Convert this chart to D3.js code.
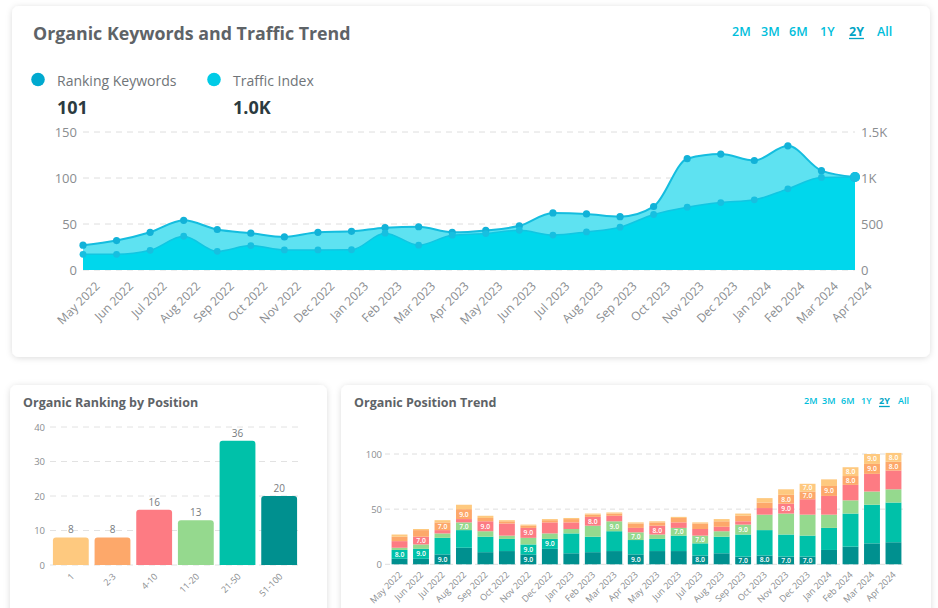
<!DOCTYPE html>
<html>
<head>
<meta charset="utf-8">
<script src="https://cdn.jsdelivr.net/npm/d3@7"></script>
<style>
  body { margin: 0; background: #fff; }
  svg text { font-family: "Open Sans", sans-serif; }
</style>
</head>
<body>
<svg id="chart" width="938" height="608"></svg>
<script>
// ---- data ----
var months = ["May 2022", "Jun 2022", "Jul 2022", "Aug 2022", "Sep 2022", "Oct 2022",
              "Nov 2022", "Dec 2022", "Jan 2023", "Feb 2023", "Mar 2023", "Apr 2023",
              "May 2023", "Jun 2023", "Jul 2023", "Aug 2023", "Sep 2023", "Oct 2023",
              "Nov 2023", "Dec 2023", "Jan 2024", "Feb 2024", "Mar 2024", "Apr 2024"];
var rankingKeywords = [27, 32, 41, 54, 44, 40, 36, 41, 42, 46, 47, 41,
                       43, 48, 62, 61, 58, 69, 121, 126, 119, 135, 108, 101];
var trafficIndex = [170, 170, 214, 367, 203, 265, 218, 218, 220, 400, 270, 378,
                    396, 432, 380, 414, 465, 603, 683, 733, 763, 882, 1006, 1010];
var leftTicks = [0, 50, 100, 150];
var rightTicks = [0, 500, 1000, 1500];

var positionGroups = ["1", "2-3", "4-10", "11-20", "21-50", "51-100"];
var positionCounts = [8, 8, 16, 13, 36, 20];
var positionColors = ["#fec97f", "#fda86a", "#fd7b83", "#95d98e", "#00c1a9", "#00908f"];
var positionTicks = [0, 10, 20, 30, 40];

// monthly counts per position group
var pos1 = [2, 1, 2, 4, 2, 1, 1, 1, 1, 1, 1, 1, 1, 1, 1, 2, 2, 4, 5, 7, 6, 8, 9, 8];
var pos2to3 = [4, 6, 7, 9, 3, 2, 2, 2, 3, 2, 2, 4, 3, 4, 5, 5, 5, 5, 8, 7, 9, 8, 9, 8];
var pos4to10 = [6, 7, 3, 3, 9, 11, 9, 10, 6, 8, 5, 4, 8, 5, 6, 4, 3, 6, 9, 14, 17, 14, 16, 17];
var pos11to20 = [2, 4, 4, 7, 5, 3, 6, 5, 4, 10, 9, 7, 4, 7, 7, 5, 9, 14, 19, 19, 12, 12, 12, 12];
var pos21to50 = [8, 9, 15, 16, 14, 11, 9, 9, 18, 14, 18, 13, 11, 14, 11, 15, 20, 23, 20, 19, 20, 30, 35, 36];
var pos51to100 = [5, 5, 9, 15, 11, 12, 9, 14, 10, 11, 12, 9, 12, 12, 8, 10, 7, 8, 7, 7, 13, 16, 19, 20];
var trendTicks = [0, 50, 100];

var rangeButtons = ["2M", "3M", "6M", "1Y", "2Y", "All"];
var activeRange = "2Y";

// ---- setup ----
var svg = d3.select("#chart");
var defs = svg.append("defs");
var shadow = defs.append("filter").attr("id", "shadow")
    .attr("x", "-5%").attr("y", "-10%").attr("width", "110%").attr("height", "125%");
shadow.append("feDropShadow").attr("dx", 0).attr("dy", 1).attr("stdDeviation", 3)
    .attr("flood-color", "#000").attr("flood-opacity", 0.14);

function card(x, y, w, h) {
    svg.append("rect").attr("x", x).attr("y", y).attr("width", w).attr("height", h)
        .attr("rx", 7).attr("fill", "#fff").attr("filter", "url(#shadow)");
}
card(12, 6, 918, 351);
card(10, 385, 317, 240);
card(341, 385, 590, 240);

function title(x, y, text, size) {
    svg.append("text").attr("x", x).attr("y", y).text(text)
        .attr("font-size", size).attr("font-weight", 700).attr("fill", "#5e6367");
}

function ranges(xs, y, size) {
    rangeButtons.forEach(function(r, i) {
        var t = svg.append("text").attr("x", xs[i]).attr("y", y).text(r)
            .attr("font-size", size).attr("font-weight", r === activeRange ? 700 : 600)
            .attr("fill", r === activeRange ? "#00a4c4" : "#00bedb");
        if (r === activeRange) {
            var w = t.node().getComputedTextLength();
            svg.append("line").attr("x1", xs[i]).attr("x2", xs[i] + w)
                .attr("y1", y + 2.5).attr("y2", y + 2.5)
                .attr("stroke", "#00a4c4").attr("stroke-width", 1.3);
        }
    });
}

function styleAxis(g, size) {
    g.select(".domain").remove();
    g.selectAll("text").attr("font-size", size).attr("fill", "#8a8d90");
}

// rounded-top bar
function barPath(x, y, w, h, r) {
    r = Math.min(r, h, w / 2);
    return "M" + x + "," + (y + h) + "V" + (y + r) +
        "Q" + x + "," + y + " " + (x + r) + "," + y +
        "H" + (x + w - r) + "Q" + (x + w) + "," + y + " " + (x + w) + "," + (y + r) +
        "V" + (y + h) + "Z";
}

// ================= top chart =================
title(33, 40, "Organic Keywords and Traffic Trend", 17.8);
ranges([732, 761, 789, 820, 849, 877], 36, 12.5);

// legend
var legend = [
    { name: "Ranking Keywords", value: "101", color: "#00a9cf", x: 38 },
    { name: "Traffic Index", value: "1.0K", color: "#00cbe6", x: 214 }
];
legend.forEach(function(l) {
    svg.append("circle").attr("cx", l.x).attr("cy", 79.5).attr("r", 6.8).attr("fill", l.color);
    svg.append("text").attr("x", l.x + 19).attr("y", 86).text(l.name)
        .attr("font-size", 14).attr("fill", "#6f7478");
    svg.append("text").attr("x", l.x + 19).attr("y", 113.5).text(l.value)
        .attr("font-size", 18).attr("font-weight", 700).attr("fill", "#2b3a40");
});

var plotL = 83, plotR = 855, plotT = 132, plotB = 270;
var x = d3.scalePoint().domain(months).range([plotL, plotR]);
var yL = d3.scaleLinear().domain([0, 150]).range([plotB, plotT]);
var yR = d3.scaleLinear().domain([0, 1500]).range([plotB, plotT]);

svg.append("g").selectAll("line").data(leftTicks).enter().append("line")
    .attr("x1", plotL).attr("x2", plotR)
    .attr("y1", function(d) { return yL(d); }).attr("y2", function(d) { return yL(d); })
    .attr("stroke", "#dedede").attr("stroke-dasharray", "6 5");

var gl = svg.append("g").attr("transform", "translate(" + plotL + ",0)")
    .call(d3.axisLeft(yL).tickValues(leftTicks).tickSize(0).tickPadding(6));
styleAxis(gl, 13);

var gr = svg.append("g").attr("transform", "translate(" + plotR + ",0)")
    .call(d3.axisRight(yR).tickValues(rightTicks).tickSize(0).tickPadding(6)
        .tickFormat(function(d) { return d >= 1000 ? (d / 1000) + "K" : d; }));
styleAxis(gr, 13);

var upperArea = d3.area()
    .x(function(d, i) { return x(months[i]); })
    .y0(plotB).y1(function(d) { return yL(d); })
    .curve(d3.curveMonotoneX);
var lowerArea = d3.area()
    .x(function(d, i) { return x(months[i]); })
    .y0(plotB).y1(function(d) { return yR(d); })
    .curve(d3.curveMonotoneX);

svg.append("path").datum(rankingKeywords).attr("d", upperArea).attr("fill", "#5ee2f1");
svg.append("path").datum(rankingKeywords).attr("d", upperArea.lineY1())
    .attr("fill", "none").attr("stroke", "#14bddf").attr("stroke-width", 2);
svg.append("path").datum(trafficIndex).attr("d", lowerArea).attr("fill", "#00d7ec");
svg.append("path").datum(trafficIndex).attr("d", lowerArea.lineY1())
    .attr("fill", "none").attr("stroke", "#10c6e2").attr("stroke-width", 1.5);

svg.append("g").selectAll("circle").data(rankingKeywords).enter().append("circle")
    .attr("cx", function(d, i) { return x(months[i]); })
    .attr("cy", function(d) { return yL(d); })
    .attr("r", function(d, i) { return i === months.length - 1 ? 5 : 3.6; })
    .attr("fill", "#12b2d8");
svg.append("g").selectAll("circle").data(trafficIndex).enter().append("circle")
    .attr("cx", function(d, i) { return x(months[i]); })
    .attr("cy", function(d) { return yR(d); })
    .attr("r", function(d, i) { return i === months.length - 1 ? 5 : 3.4; })
    .attr("fill", "#17bfe0");

var gx = svg.append("g").attr("transform", "translate(0," + plotB + ")")
    .call(d3.axisBottom(x).tickSize(0));
styleAxis(gx, 12);
gx.selectAll("text").attr("x", 0).attr("y", 0).attr("dy", 0)
    .attr("text-anchor", "end").attr("transform", "translate(17,17) rotate(-45)");

// ================= organic ranking by position =================
title(23, 407, "Organic Ranking by Position", 12.5);

var xb = d3.scaleBand().domain(positionGroups).range([50, 300]).paddingInner(0.14).paddingOuter(0.07);
var yb = d3.scaleLinear().domain([0, 40]).range([565, 427]);

svg.append("g").selectAll("line").data(positionTicks).enter().append("line")
    .attr("x1", 50).attr("x2", 300)
    .attr("y1", function(d) { return yb(d); }).attr("y2", function(d) { return yb(d); })
    .attr("stroke", "#e2e2e2").attr("stroke-dasharray", "6 5");

var gbl = svg.append("g").attr("transform", "translate(50,0)")
    .call(d3.axisLeft(yb).tickValues(positionTicks).tickSize(0).tickPadding(5));
styleAxis(gbl, 9.5);

svg.append("g").selectAll("path").data(positionCounts).enter().append("path")
    .attr("d", function(d, i) {
        return barPath(xb(positionGroups[i]), yb(d), xb.bandwidth(), yb(0) - yb(d), 3);
    })
    .attr("fill", function(d, i) { return positionColors[i]; });

svg.append("g").selectAll("text").data(positionCounts).enter().append("text")
    .attr("x", function(d, i) { return xb(positionGroups[i]) + xb.bandwidth() / 2; })
    .attr("y", function(d) { return yb(d) - 4; })
    .attr("text-anchor", "middle").attr("font-size", 10).attr("fill", "#777b7e")
    .text(function(d) { return d; });

var gbx = svg.append("g").attr("transform", "translate(0,565)")
    .call(d3.axisBottom(xb).tickSize(0));
styleAxis(gbx, 9);
gbx.selectAll("text").attr("x", 0).attr("y", 0).attr("dy", 0)
    .attr("text-anchor", "end").attr("transform", "translate(4,12) rotate(-45)");

// ================= organic position trend =================
title(354, 407, "Organic Position Trend", 12.5);
ranges([804, 822, 841, 861, 879, 898], 404, 9);

var stackKeys = ["51-100", "21-50", "11-20", "4-10", "2-3", "1"];
var groupSeries = { "1": pos1, "2-3": pos2to3, "4-10": pos4to10,
                    "11-20": pos11to20, "21-50": pos21to50, "51-100": pos51to100 };
var rows = months.map(function(m, i) {
    var row = { month: m };
    stackKeys.forEach(function(k) { row[k] = groupSeries[k][i]; });
    return row;
});
var stacked = d3.stack().keys(stackKeys)(rows);

var xs = d3.scaleBand().domain(months).range([386, 907]).padding(0.26);
var ys = d3.scaleLinear().domain([0, 100]).range([564.3, 454]);

svg.append("g").selectAll("line").data(trendTicks).enter().append("line")
    .attr("x1", 385).attr("x2", 905)
    .attr("y1", function(d) { return ys(d); }).attr("y2", function(d) { return ys(d); })
    .attr("stroke", "#dedede").attr("stroke-dasharray", "5 4");

var gsl = svg.append("g").attr("transform", "translate(385,0)")
    .call(d3.axisLeft(ys).tickValues(trendTicks).tickSize(0).tickPadding(3));
styleAxis(gsl, 9.5);

var layer = svg.append("g").selectAll("g").data(stacked).enter().append("g")
    .attr("fill", function(s) { return positionColors[positionGroups.indexOf(s.key)]; });

layer.selectAll("rect").data(function(s) { return s; }).enter().append("rect")
    .attr("x", function(d) { return xs(d.data.month); })
    .attr("y", function(d) { return ys(d[1]); })
    .attr("width", xs.bandwidth())
    .attr("height", function(d) { return ys(d[0]) - ys(d[1]); });

// value labels where a segment holds 7-9 keywords
layer.selectAll("text").data(function(s) { return s; }).enter()
    .filter(function(d) { var v = d[1] - d[0]; return v >= 7 && v < 10; })
    .append("text")
    .attr("x", function(d) { return xs(d.data.month) + xs.bandwidth() / 2; })
    .attr("y", function(d) { return (ys(d[0]) + ys(d[1])) / 2 + 2.5; })
    .attr("text-anchor", "middle").attr("font-size", 6.8).attr("font-weight", 600)
    .attr("fill", "#fff")
    .text(function(d) { return (d[1] - d[0]).toFixed(1); });

var gsx = svg.append("g").attr("transform", "translate(0,564.3)")
    .call(d3.axisBottom(xs).tickSize(0));
styleAxis(gsx, 9);
gsx.selectAll("text").attr("x", 0).attr("y", 0).attr("dy", 0)
    .attr("text-anchor", "end").attr("transform", "translate(3,11) rotate(-45)");
</script>
</body>
</html>
